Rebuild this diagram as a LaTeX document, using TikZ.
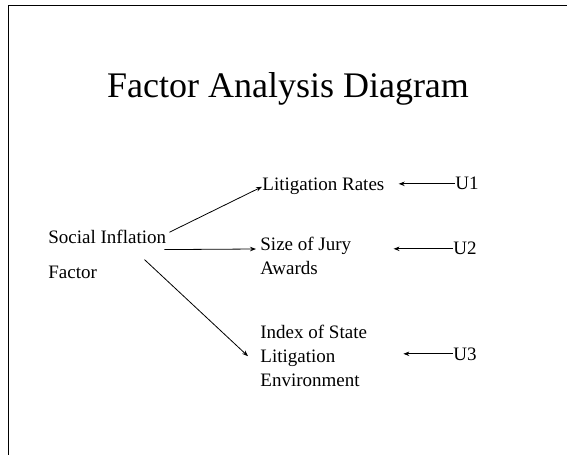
\documentclass[tikz,border=0pt]{standalone}
\usepackage{fontspec}
\setmainfont{Liberation Serif}
\usepackage{tikz}
\usetikzlibrary{arrows.meta}

\begin{document}
\begin{tikzpicture}[x=1bp, y=-1bp, >={Stealth[length=6bp,width=4.5bp]},
                line width=0.8bp, label/.style={inner sep=0pt, align=left,
                font=\fontsize{19bp}{24bp}\selectfont}]
    \useasboundingbox (0,0) rectangle (567,455);

    % slide frame
    \draw (567,5) -- (8,5) -- (8,455);

    \node[inner sep=0pt, anchor=base, font=\fontsize{36bp}{40bp}\selectfont] (title) at (288,98) {Factor Analysis Diagram};

    % factor and its indicators
    \node[label, anchor=base west] (soc) at (48,244) {Social Inflation};
    \node[label, anchor=base west] (fac) at (48,279) {Factor};
    \node[label, anchor=base west] (lit) at (262,191) {Litigation Rates};
    \node[label, anchor=north west] (size) at (260,237) {Size of Jury\\Awards};
    \node[label, anchor=north west] (idx) at (260,325) {Index of State\\Litigation\\Environment};

    % unique factors
    \node[label, anchor=base west] (u1) at (455,190) {U1};
    \node[label, anchor=base west] (u2) at (453,255) {U2};
    \node[label, anchor=base west] (u3) at (453,360) {U3};

    \draw[->] ([xshift=3bp,yshift=-2bp]soc.north east) -- (lit.west);
    \draw[->] ([xshift=-2bp,yshift=-5bp]soc.south east) -- ([xshift=-4bp,yshift=-12bp]size.north west);
    \draw[->] ([xshift=-22bp,yshift=-15bp]soc.south east) -- ([xshift=-12bp]idx.west);

    \draw[->, shorten >=14bp] (u1.west) -- (u1.west -| lit.east);
    \draw[->, shorten >=42bp] (u2.west) -- (u2.west -| size.east);
    \draw[->, shorten >=36bp] (u3.west) -- (u3.west -| idx.east);
\end{tikzpicture}
\end{document}
